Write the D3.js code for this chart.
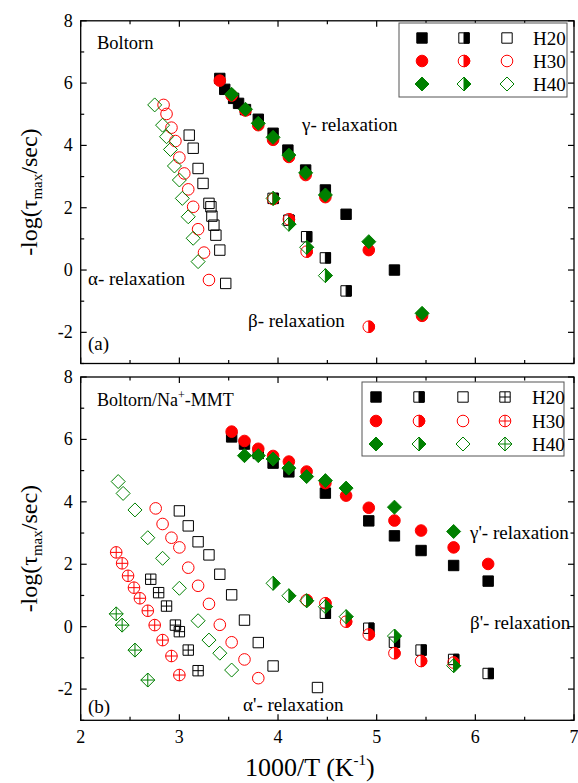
<!DOCTYPE html>
<html><head><meta charset="utf-8">
<script src="https://cdn.jsdelivr.net/npm/d3@7"></script>
<style>body{margin:0;background:#fff}svg{display:block}text{font-family:"Liberation Serif","Times New Roman",serif;fill:#000}</style>
</head><body><svg id="c" width="578" height="783"></svg>
<script>
// ---- data: top panel (Boltorn) ----
const topH20FilledX=[3.41,3.46,3.55,3.60,3.67,3.80,3.95,4.10,4.28,4.48,4.69,5.18];
const topH20FilledY=[6.15,5.80,5.51,5.35,5.15,4.84,4.39,3.85,3.21,2.57,1.79,0.00];
const topH30FilledX=[3.41,3.53,3.67,3.80,3.95,4.11,4.28,4.48,4.92,5.46];
const topH30FilledY=[6.08,5.60,5.12,4.65,4.18,3.63,3.05,2.34,0.64,-1.47];
const topH40FilledX=[3.53,3.67,3.80,3.95,4.11,4.28,4.48,4.92,5.46];
const topH40FilledY=[5.64,5.16,4.71,4.26,3.69,3.12,2.41,0.91,-1.39];
const topH20HalfX=[3.95,4.11,4.29,4.48,4.69];
const topH20HalfY=[2.30,1.60,1.07,0.39,-0.67];
const topH30HalfX=[3.95,4.11,4.29,4.92];
const topH30HalfY=[2.28,1.63,0.59,-1.82];
const topH40HalfX=[3.95,4.11,4.29,4.48];
const topH40HalfY=[2.30,1.47,0.73,-0.18];
const topH20OpenX=[3.10,3.14,3.19,3.24,3.30,3.32,3.33,3.35,3.37,3.41,3.47];
const topH20OpenY=[4.33,3.91,3.26,2.78,2.14,2.03,1.73,1.44,1.12,0.64,-0.43];
const topH30OpenX=[2.84,2.87,2.92,2.96,3.00,3.05,3.09,3.14,3.19,3.25,3.30];
const topH30OpenY=[5.30,5.01,4.57,4.14,3.61,3.10,2.59,2.03,1.31,0.56,-0.32];
const topH40OpenX=[2.75,2.83,2.87,2.91,2.95,3.00,3.03,3.09,3.14,3.19];
const topH40OpenY=[5.30,4.65,4.28,3.87,3.34,2.89,2.30,1.71,1.02,0.27];
// ---- data: bottom panel (Boltorn/Na+-MMT) ----
const botH20FilledX=[3.53,3.66,3.80,3.95,4.11,4.48,4.92,5.18,5.45,5.78,6.13];
const botH20FilledY=[6.08,5.85,5.55,5.24,4.96,4.28,3.39,2.91,2.44,1.96,1.46];
const botH30FilledX=[3.53,3.66,3.80,3.95,4.11,4.29,4.48,4.69,4.92,5.18,5.45,5.78,6.13];
const botH30FilledY=[6.25,5.95,5.70,5.47,5.29,4.97,4.60,4.20,3.81,3.40,3.08,2.54,2.01];
const botH40FilledX=[3.66,3.80,3.95,4.11,4.29,4.48,4.69,5.18,5.78];
const botH40FilledY=[5.48,5.48,5.37,5.08,4.81,4.68,4.44,3.83,3.05];
const botH20HalfX=[4.48,4.92,5.18,5.45,5.78,6.13];
const botH20HalfY=[0.43,-0.05,-0.50,-0.75,-1.05,-1.50];
const botH30HalfX=[4.29,4.48,4.69,4.92,5.18,5.45,5.78];
const botH30HalfY=[0.85,0.75,0.16,-0.25,-0.85,-1.10,-1.15];
const botH40HalfX=[3.95,4.11,4.29,4.48,4.69,5.18,5.78];
const botH40HalfY=[1.39,0.99,0.83,0.64,0.32,-0.30,-1.25];
const botH20OpenX=[3.00,3.09,3.19,3.30,3.41,3.53,3.66,3.80,3.95,4.40];
const botH20OpenY=[3.71,3.23,2.72,2.30,1.68,1.02,0.21,-0.51,-1.26,-1.95];
const botH30OpenX=[2.76,2.83,2.92,3.00,3.09,3.19,3.30,3.41,3.53,3.66,3.80];
const botH30OpenY=[3.79,3.29,2.85,2.54,1.89,1.31,0.73,0.06,-0.50,-1.05,-1.65];
const botH40OpenX=[2.38,2.43,2.55,2.68,2.83,3.00,3.19,3.30,3.41,3.53];
const botH40OpenY=[4.65,4.27,3.74,2.85,2.19,1.23,0.19,-0.43,-0.85,-1.39];
const botH20CrossX=[2.71,2.79,2.87,2.96,3.00,3.09,3.19];
const botH20CrossY=[1.52,1.09,0.66,0.05,-0.16,-0.75,-1.41];
const botH30CrossX=[2.36,2.42,2.48,2.54,2.60,2.68,2.75,2.83,2.92,3.00];
const botH30CrossY=[2.38,2.03,1.63,1.25,0.91,0.51,0.05,-0.43,-0.94,-1.55];
const botH40CrossX=[2.36,2.42,2.55,2.68];
const botH40CrossY=[0.41,0.05,-0.75,-1.71];
// ---- axes ----
const xDomain=[2,7], yDomain=[-3,8];
const xTickVals=[2,3,4,5,6,7];
const yTickVals=[-2,0,2,4,6,8];
const groups=["H20","H30","H40"];
const groupColors=["#000000","#ff0000","#008000"];
const groupShapes=["square","circle","diamond"];

const svg=d3.select("#c");
const X0=80.7, X1=574;
const x=d3.scaleLinear().domain(xDomain).range([X0,X1]);
const panels=[
  {top:20.8,bottom:363.5},
  {top:377,bottom:720.3}
];

function drawSymbol(g,cx,cy,shape,style,color){
  const s=g.append("g").attr("transform",`translate(${cx},${cy})`);
  let outline, half;
  if(shape==="square"){
    const h=5.2;
    outline=`M${-h},${-h}H${h}V${h}H${-h}Z`;
    half=`M0,${-h}H${h}V${h}H0Z`;
  } else if(shape==="circle"){
    const r=5.8;
    outline=`M${r},0A${r},${r} 0 1,1 ${-r},0A${r},${r} 0 1,1 ${r},0Z`;
    half=`M0,${-r}A${r},${r} 0 0,1 0,${r}Z`;
  } else {
    const d=7;
    outline=`M0,${-d}L${d},0L0,${d}L${-d},0Z`;
    half=`M0,${-d}L${d},0L0,${d}Z`;
  }
  if(style==="filled"){
    s.append("path").attr("d",outline).attr("fill",color).attr("stroke",color).attr("stroke-width",1);
  } else {
    s.append("path").attr("d",outline).attr("fill","none").attr("stroke",color).attr("stroke-width",1);
    if(style==="half") s.append("path").attr("d",half).attr("fill",color).attr("stroke",color).attr("stroke-width",1);
    if(style==="cross"){
      const e= shape==="diamond"?7:(shape==="circle"?5.8:5.2);
      s.append("path").attr("d",`M${-e},0H${e}M0,${-e}V${e}`).attr("stroke",color).attr("stroke-width",1).attr("fill","none");
    }
  }
}

function drawSeries(g,y,xs,ys,gi,style){
  xs.forEach((v,i)=>drawSymbol(g,x(v),y(ys[i]),groupShapes[gi],style,groupColors[gi]));
}

function frame(p,showXLabels){
  const y=d3.scaleLinear().domain(yDomain).range([p.bottom,p.top]);
  const g=svg.append("g");
  g.append("rect").attr("x",X0).attr("y",p.top).attr("width",X1-X0).attr("height",p.bottom-p.top)
    .attr("fill","none").attr("stroke","#000").attr("stroke-width",1.3);
  const xMinor=d3.range(2.5,7,1), yMinor=d3.range(-3,8,2);
  const tk=g.append("g").attr("stroke","#000").attr("stroke-width",1.2);
  xTickVals.forEach(v=>{tk.append("line").attr("x1",x(v)).attr("x2",x(v)).attr("y1",p.bottom).attr("y2",p.bottom-6);
    tk.append("line").attr("x1",x(v)).attr("x2",x(v)).attr("y1",p.top).attr("y2",p.top+6);});
  xMinor.forEach(v=>{tk.append("line").attr("x1",x(v)).attr("x2",x(v)).attr("y1",p.bottom).attr("y2",p.bottom-3.5);
    tk.append("line").attr("x1",x(v)).attr("x2",x(v)).attr("y1",p.top).attr("y2",p.top+3.5);});
  yTickVals.forEach(v=>{tk.append("line").attr("x1",X0).attr("x2",X0+6).attr("y1",y(v)).attr("y2",y(v));
    tk.append("line").attr("x1",X1).attr("x2",X1-6).attr("y1",y(v)).attr("y2",y(v));});
  yMinor.forEach(v=>{tk.append("line").attr("x1",X0).attr("x2",X0+3.5).attr("y1",y(v)).attr("y2",y(v));
    tk.append("line").attr("x1",X1).attr("x2",X1-3.5).attr("y1",y(v)).attr("y2",y(v));});
  yTickVals.forEach(v=>g.append("text").attr("x",X0-8).attr("y",y(v)+6).attr("text-anchor","end")
    .attr("font-size",18).text(v));
  if(showXLabels) xTickVals.forEach(v=>g.append("text").attr("x",x(v)).attr("y",p.bottom+23).attr("text-anchor","middle")
    .attr("font-size",18).text(v));
  // y title
  const t=g.append("text").attr("transform",`translate(37,${(p.top+p.bottom)/2}) rotate(-90)`)
    .attr("text-anchor","middle").attr("font-size",24);
  t.append("tspan").text("-log(τ");
  t.append("tspan").attr("font-size",15).attr("dy",5).text("max");
  t.append("tspan").attr("dy",-5).text("/sec)");
  return {g,y};
}

// top panel
{
  const {g,y}=frame(panels[0],false);
  drawSeries(g,y,topH20OpenX,topH20OpenY,0,"open");
  drawSeries(g,y,topH30OpenX,topH30OpenY,1,"open");
  drawSeries(g,y,topH40OpenX,topH40OpenY,2,"open");
  drawSeries(g,y,topH20HalfX,topH20HalfY,0,"half");
  drawSeries(g,y,topH30HalfX,topH30HalfY,1,"half");
  drawSeries(g,y,topH40HalfX,topH40HalfY,2,"half");
  drawSeries(g,y,topH20FilledX,topH20FilledY,0,"filled");
  drawSeries(g,y,topH30FilledX,topH30FilledY,1,"filled");
  drawSeries(g,y,topH40FilledX,topH40FilledY,2,"filled");
  g.append("text").attr("x",97).attr("y",49).attr("font-size",18.5).text("Boltorn");
  g.append("text").attr("x",302).attr("y",131).attr("font-size",19).text("γ- relaxation");
  g.append("text").attr("x",88).attr("y",285).attr("font-size",19).text("α- relaxation");
  g.append("text").attr("x",248).attr("y",327).attr("font-size",19).text("β- relaxation");
  g.append("text").attr("x",88).attr("y",350).attr("font-size",19).text("(a)");
  // legend
  const lg=g.append("g");
  lg.append("rect").attr("x",399).attr("y",23).attr("width",168).attr("height",74).attr("fill","#fff").attr("stroke","#555").attr("stroke-width",1);
  const cols=[422,464,507], styles=["filled","half","open"], rows=[38,61,84];
  groups.forEach((gr,i)=>{
    styles.forEach((st,j)=>drawSymbol(lg,cols[j],rows[i],groupShapes[i],st,groupColors[i]));
    lg.append("text").attr("x",533).attr("y",rows[i]+7).attr("font-size",19).text(gr);
  });
}
// bottom panel
{
  const {g,y}=frame(panels[1],true);
  drawSeries(g,y,botH20CrossX,botH20CrossY,0,"cross");
  drawSeries(g,y,botH30CrossX,botH30CrossY,1,"cross");
  drawSeries(g,y,botH40CrossX,botH40CrossY,2,"cross");
  drawSeries(g,y,botH20OpenX,botH20OpenY,0,"open");
  drawSeries(g,y,botH30OpenX,botH30OpenY,1,"open");
  drawSeries(g,y,botH40OpenX,botH40OpenY,2,"open");
  drawSeries(g,y,botH20HalfX,botH20HalfY,0,"half");
  drawSeries(g,y,botH30HalfX,botH30HalfY,1,"half");
  drawSeries(g,y,botH40HalfX,botH40HalfY,2,"half");
  drawSeries(g,y,botH20FilledX,botH20FilledY,0,"filled");
  drawSeries(g,y,botH30FilledX,botH30FilledY,1,"filled");
  drawSeries(g,y,botH40FilledX,botH40FilledY,2,"filled");
  const t=g.append("text").attr("x",97).attr("y",406).attr("font-size",18);
  t.append("tspan").text("Boltorn/Na");
  t.append("tspan").attr("font-size",12).attr("dy",-7).text("+");
  t.append("tspan").attr("dy",7).text("-MMT");
  g.append("text").attr("x",470).attr("y",539).attr("font-size",19).text("γ'- relaxation");
  g.append("text").attr("x",470).attr("y",629).attr("font-size",19).text("β'- relaxation");
  g.append("text").attr("x",243).attr("y",711).attr("font-size",19).text("α'- relaxation");
  g.append("text").attr("x",88).attr("y",713).attr("font-size",19).text("(b)");
  const lg=g.append("g");
  lg.append("rect").attr("x",362).attr("y",382).attr("width",202).attr("height",74).attr("fill","#fff").attr("stroke","#555").attr("stroke-width",1);
  const cols=[376,419,463,505], styles=["filled","half","open","cross"], rows=[397,421,444];
  groups.forEach((gr,i)=>{
    styles.forEach((st,j)=>drawSymbol(lg,cols[j],rows[i],groupShapes[i],st,groupColors[i]));
    lg.append("text").attr("x",532).attr("y",rows[i]+7).attr("font-size",19).text(gr);
  });
  const xt=svg.append("text").attr("x",245).attr("y",776).attr("font-size",26);
  xt.append("tspan").text("1000/T (K");
  xt.append("tspan").attr("font-size",15).attr("dy",-11).text("-1");
  xt.append("tspan").attr("dy",11).text(")");
}
</script></body></html>
